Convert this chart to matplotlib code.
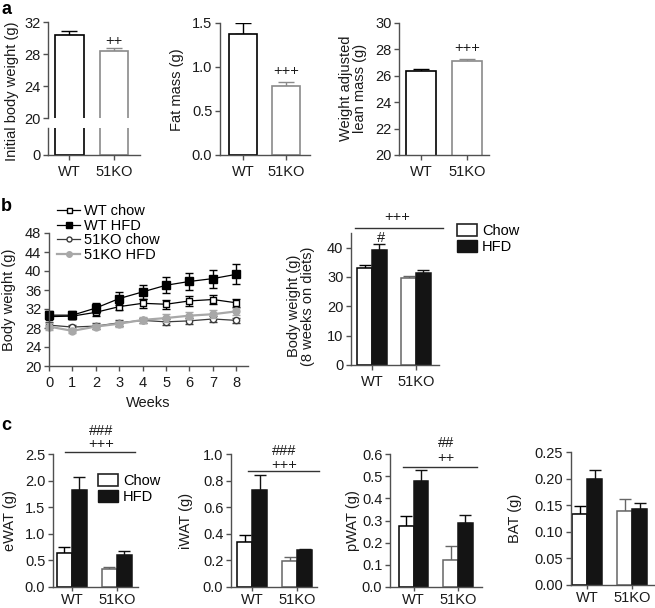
import numpy as np
import matplotlib.pyplot as plt
from matplotlib.patches import Patch

plt.rcParams['font.family'] = ['Liberation Sans', 'DejaVu Sans']
plt.rcParams['font.size'] = 10.5

W, H = 655, 608
groups = ['WT', '51KO']

# panel a
body_weight = [30.4, 28.4]
body_weight_err = [0.5, 0.4]
fat_mass = [1.38, 0.78]
fat_mass_err = [0.12, 0.05]
lean_mass = [26.4, 27.15]
lean_mass_err = [0.1, 0.1]

# panel b, time course
weeks = [0, 1, 2, 3, 4, 5, 6, 7, 8]
wt_chow = [30.4, 30.5, 31.3, 32.5, 33.2, 33.0, 33.7, 34.0, 33.3]
wt_chow_err = [0.6, 0.7, 0.8, 0.8, 1.0, 1.0, 1.0, 1.0, 0.9]
wt_hfd = [30.7, 30.7, 32.2, 34.2, 35.6, 37.0, 37.8, 38.4, 39.3]
wt_hfd_err = [0.8, 0.9, 1.1, 1.3, 1.5, 1.7, 1.8, 1.9, 2.1]
ko_chow = [28.6, 28.2, 28.4, 29.1, 29.6, 29.3, 29.5, 29.9, 29.6]
ko_chow_err = [0.6, 0.5, 0.6, 0.6, 0.6, 0.7, 0.7, 0.6, 0.6]
ko_hfd = [28.3, 27.4, 28.3, 28.9, 29.7, 30.1, 30.6, 30.9, 31.5]
ko_hfd_err = [0.7, 0.5, 0.6, 0.6, 0.7, 0.8, 0.8, 0.8, 0.8]

# panel b, week 8
bw8_chow = [33.2, 29.6]
bw8_chow_err = [1.0, 0.6]
bw8_hfd = [39.3, 31.5]
bw8_hfd_err = [2.0, 0.8]

# panel c
ewat_chow = [0.64, 0.34]
ewat_chow_err = [0.11, 0.04]
ewat_hfd = [1.82, 0.61]
ewat_hfd_err = [0.25, 0.07]
iwat_chow = [0.335, 0.196]
iwat_chow_err = [0.055, 0.03]
iwat_hfd = [0.73, 0.277]
iwat_hfd_err = [0.114, 0.008]
pwat_chow = [0.276, 0.124]
pwat_chow_err = [0.044, 0.062]
pwat_hfd = [0.48, 0.29]
pwat_hfd_err = [0.048, 0.037]
bat_chow = [0.134, 0.1385]
bat_chow_err = [0.015, 0.024]
bat_hfd = [0.20, 0.142]
bat_hfd_err = [0.017, 0.013]

AX = '#505050'
TXT = '#1a1a1a'
KO_EDGE = '#8a8a8a'

fig = plt.figure(figsize=(W / 100, H / 100), dpi=100)


def add_ax(x0, y0, x1, y1):
    return fig.add_axes([x0 / W, 1 - y1 / H, (x1 - x0) / W, (y1 - y0) / H])


def style(ax, xpad=4):
    for s in ['top', 'right']:
        ax.spines[s].set_visible(False)
    for s in ['left', 'bottom']:
        ax.spines[s].set_color(AX)
        ax.spines[s].set_linewidth(1.0)
    ax.tick_params(colors=AX, labelcolor=TXT, length=3.5, width=1.0, pad=2)
    ax.tick_params(axis='x', pad=xpad)


def ftext(x, y, s, **kw):
    fig.text(x / W, 1 - y / H, s, ha='center', va='center', color=TXT, **kw)


def fline(x0, x1, y):
    fig.add_artist(plt.Line2D([x0 / W, x1 / W], [1 - y / H, 1 - y / H],
                              color='#333333', lw=1.0))


def single_bars(ax, vals, errs, width=0.65, capsize=6):
    x = np.arange(len(vals))
    edges = ['black', KO_EDGE]
    for i in range(len(vals)):
        ax.errorbar(x[i], vals[i], yerr=[[0], [errs[i]]], fmt='none',
                    ecolor=edges[i], elinewidth=1.0, capsize=capsize,
                    capthick=1.0, zorder=1)
        ax.bar(x[i], vals[i], width, color='white', edgecolor=edges[i],
               linewidth=1.2, zorder=2)


def pair_bars(ax, chow, chow_err, hfd, hfd_err, width=0.33, capsize=4.5):
    x = np.arange(len(chow))
    chow_edges = ['black', '#666666']
    for i in range(len(chow)):
        ax.errorbar(x[i] - width / 2, chow[i], yerr=[[0], [chow_err[i]]],
                    fmt='none', ecolor=chow_edges[i], elinewidth=1.0,
                    capsize=capsize, capthick=1.0, zorder=1)
        ax.errorbar(x[i] + width / 2, hfd[i], yerr=[[0], [hfd_err[i]]],
                    fmt='none', ecolor='#111111', elinewidth=1.0,
                    capsize=capsize, capthick=1.0, zorder=1)
        ax.bar(x[i] - width / 2, chow[i], width, color='white',
               edgecolor=chow_edges[i], linewidth=1.1, zorder=2)
        ax.bar(x[i] + width / 2, hfd[i], width, color='#141414',
               edgecolor='#141414', linewidth=1.1, zorder=2)
    ax.set_xticks(x)
    ax.set_xticklabels(groups)


def diet_legend(ax, x, y):
    ax.legend(handles=[Patch(facecolor='white', edgecolor='#222222', lw=1.2),
                       Patch(facecolor='#141414', edgecolor='#141414')],
              labels=['Chow', 'HFD'], loc='upper left',
              bbox_to_anchor=(x / W, 1 - y / H),
              bbox_transform=fig.transFigure, frameon=False, fontsize=10.5,
              handlelength=1.35, handleheight=0.85, handletextpad=0.35,
              labelspacing=0.15, borderpad=0, borderaxespad=0)


# ---- a1: initial body weight (broken axis)
a1_top = add_ax(48, 22, 140, 118)
a1_bot = add_ax(48, 128, 140, 155)
for ax in (a1_top, a1_bot):
    style(ax)
    single_bars(ax, body_weight, body_weight_err)
    ax.set_xlim(-0.483, 1.584)
a1_top.set_ylim(20, 32)
a1_top.set_yticks([20, 24, 28, 32])
a1_top.spines['bottom'].set_visible(False)
a1_top.set_xticks([])
a1_bot.set_ylim(0, 3.4)
a1_bot.set_yticks([0])
a1_bot.set_xticks([0, 1])
a1_bot.set_xticklabels(groups)
ftext(114, 41, '++')
ftext(12, 91, 'Initial body weight (g)', rotation=90)

# ---- a2: fat mass
a2 = add_ax(220, 23, 310, 155)
style(a2)
single_bars(a2, fat_mass, fat_mass_err)
a2.set_xlim(-0.535, 1.558)
a2.set_ylim(0, 1.5)
a2.set_yticks([0, 0.5, 1.0, 1.5])
a2.set_yticklabels(['0.0', '0.5', '1.0', '1.5'])
a2.set_xticks([0, 1])
a2.set_xticklabels(groups)
ftext(286, 71, '+++')
ftext(177, 90, 'Fat mass (g)', rotation=90)

# ---- a3: lean mass
a3 = add_ax(399, 23, 489, 155)
style(a3)
single_bars(a3, lean_mass, lean_mass_err)
a3.set_xlim(-0.478, 1.478)
a3.set_ylim(20, 30)
a3.set_yticks([20, 22, 24, 26, 28, 30])
a3.set_xticks([0, 1])
a3.set_xticklabels(groups)
ftext(467, 48, '+++')
ftext(353, 88, 'Weight adjusted\nlean mass (g)', rotation=90, linespacing=1.0)

# ---- b1: body weight over time
b1 = add_ax(49, 233, 248, 366)
style(b1)
series = [
    (wt_chow, wt_chow_err, 'WT chow', 'black', 's', 'white', 4.5, 0.9),
    (wt_hfd, wt_hfd_err, 'WT HFD', 'black', 's', 'black', 6, 0.9),
    (ko_chow, ko_chow_err, '51KO chow', '#3a3a3a', 'o', 'white', 4.5, 0.9),
    (ko_hfd, ko_hfd_err, '51KO HFD', '#a8a8a8', 'o', '#a8a8a8', 5, 1.6),
]
for vals, errs, lab, col, mk, mfc, ms, lw in series:
    b1.errorbar(weeks, vals, yerr=errs, fmt='none', ecolor=col,
                elinewidth=1.0, capsize=3, capthick=1.0, clip_on=False)
    b1.plot(weeks, vals, color=col, marker=mk, mfc=mfc, mec=col, ms=ms,
            lw=lw, label=lab, clip_on=False)
b1.set_xlim(0, 8.5)
b1.set_ylim(20, 48)
b1.set_xticks(weeks)
b1.set_yticks(range(20, 49, 4))
b1.set_xlabel('Weeks', color=TXT, labelpad=4)
b1.legend(loc='upper left', bbox_to_anchor=(57 / W, 1 - 204 / H),
          bbox_transform=fig.transFigure, frameon=False, fontsize=10.5,
          handlelength=1.6, handletextpad=0.25, labelspacing=0.05,
          borderpad=0, borderaxespad=0, markerscale=0.8)
ftext(9, 300, 'Body weight (g)', rotation=90)

# ---- b2: body weight at 8 weeks
b2 = add_ax(351, 233, 439, 365)
style(b2)
pair_bars(b2, bw8_chow, bw8_chow_err, bw8_hfd, bw8_hfd_err, width=0.34,
          capsize=4)
b2.set_xlim(-0.477, 1.523)
b2.set_ylim(0, 45)
b2.set_yticks([0, 10, 20, 30, 40])
fline(355, 443, 228)
ftext(397, 217, '+++')
ftext(381, 238, '#')
ftext(301, 306, 'Body weight (g)\n(8 weeks on diets)', rotation=90,
      linespacing=1.0)
diet_legend(b2, 457, 224)

# ---- c panels
c_specs = [
    ((53, 454, 138, 587), (-0.422, 1.467), 2.5, [0, 0.5, 1.0, 1.5, 2.0, 2.5],
     '{:.1f}', ewat_chow, ewat_chow_err, ewat_hfd, ewat_hfd_err,
     'eWAT (g)', 10),
    ((231, 454, 317, 587), (-0.467, 1.444), 1.0, [0, 0.2, 0.4, 0.6, 0.8, 1.0],
     '{:.1f}', iwat_chow, iwat_chow_err, iwat_hfd, iwat_hfd_err,
     'iWAT (g)', 186),
    ((390, 454, 482, 587), (-0.528, 1.539), 0.6,
     [0, 0.1, 0.2, 0.3, 0.4, 0.5, 0.6], '{:.1f}',
     pwat_chow, pwat_chow_err, pwat_hfd, pwat_hfd_err, 'pWAT (g)', 353),
    ((571, 452, 654, 585), (-0.356, 1.488), 0.25,
     [0, 0.05, 0.10, 0.15, 0.20, 0.25], '{:.2f}',
     bat_chow, bat_chow_err, bat_hfd, bat_hfd_err, 'BAT (g)', 515),
]
c_axes = []
for box, xl, ytop, yt, fmt, ch, che, hf, hfe, lab, lx in c_specs:
    ax = add_ax(*box)
    style(ax, xpad=1.5)
    ax.tick_params(axis='x', length=3)
    pair_bars(ax, ch, che, hf, hfe, width=0.333, capsize=4.5)
    ax.set_xlim(*xl)
    ax.set_ylim(0, ytop)
    ax.set_yticks(yt)
    ax.set_yticklabels([fmt.format(v) for v in yt])
    ftext(lx, (box[1] + box[3]) / 2, lab, rotation=90)
    c_axes.append(ax)

fline(65, 135, 452)
ftext(101, 444, '+++')
ftext(101, 431, '###')
fline(248, 319, 471)
ftext(284, 465, '+++')
ftext(284, 451, '###')
fline(403, 477, 467)
ftext(446, 458, '++')
ftext(446, 443, '##')

diet_legend(c_axes[0], 98, 474)

# panel letters
for s, y in [('a', 1), ('b', 198), ('c', 417)]:
    fig.text(1 / W, 1 - y / H, s, ha='left', va='top', fontsize=13,
             fontweight='bold', color='black')

fig.savefig('out.png', dpi=100)
